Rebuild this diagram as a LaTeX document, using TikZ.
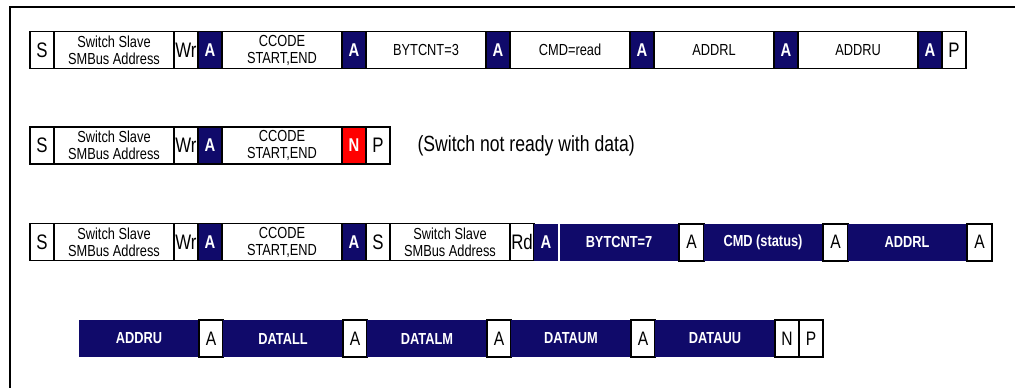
\documentclass[tikz,border=0pt]{standalone}
\usepackage{fontspec}
\setmainfont{Liberation Sans}[FakeStretch=0.8]
\usepackage{xcolor}
\definecolor{busnavy}{RGB}{16,10,106}

\tikzset{
  cell/.style={draw=black, line width=1.5pt, inner sep=0pt, outer sep=0pt,
    anchor=west, minimum height=37pt, text=black,
    font=\fontsize{21}{23}\selectfont},
  narrow/.style={cell, minimum width=24pt},
  wide/.style={cell, minimum width=120pt, align=center,
    font=\fontsize{16}{17}\selectfont},
  ack/.style={narrow, fill=busnavy, text=white,
    font=\bfseries\fontsize{18.5}{20}\selectfont},
  nak/.style={ack, fill=red},
  slavebyte/.style={cell, draw=none, fill=busnavy, text=white,
    minimum width=118pt, font=\bfseries\fontsize{16}{18}\selectfont},
  hostack/.style={narrow, line width=2pt, minimum width=25pt,
    font=\fontsize{19.5}{21}\selectfont}
}

\begin{document}
\begin{tikzpicture}[x=1pt, y=-1pt]
\useasboundingbox (0,0) rectangle (1015,388);

% Frame round the sequences
\coordinate (FR) at (1020,7);
\coordinate (FB) at (10,395);
\draw[line width=2pt] (FR) -| (FB);

\begin{scope}[shift={(0,50)}]
        % Write: block read request
        \node[narrow] (wS) at (30,0) {S};
        \node[wide] (wAddr) at (wS.east) {Switch Slave\\SMBus Address};
        \node[narrow] (wWr) at (wAddr.east) {Wr};
        \node[ack] (wA1) at (wWr.east) {A};
        \node[wide] (wCode) at (wA1.east) {CCODE\\START,END};
        \node[ack] (wA2) at (wCode.east) {A};
        \node[wide] (wCnt) at (wA2.east) {BYTCNT=3};
        \node[ack] (wA3) at (wCnt.east) {A};
        \node[wide] (wCmd) at (wA3.east) {CMD=read};
        \node[ack] (wA4) at (wCmd.east) {A};
        \node[wide] (wAddrL) at (wA4.east) {ADDRL};
        \node[ack] (wA5) at (wAddrL.east) {A};
        \node[wide] (wAddrU) at (wA5.east) {ADDRU};
        \node[ack] (wA6) at (wAddrU.east) {A};
        \node[narrow] (wP) at (wA6.east) {P};
\end{scope}

\begin{scope}[shift={(0,145.5)}]
        % Read attempt: switch not ready
        \node[narrow] (nS) at (30,0) {S};
        \node[wide] (nAddr) at (nS.east) {Switch Slave\\SMBus Address};
        \node[narrow] (nWr) at (nAddr.east) {Wr};
        \node[ack] (nA1) at (nWr.east) {A};
        \node[wide] (nCode) at (nA1.east) {CCODE\\START,END};
        \node[nak] (nN) at (nCode.east) {N};
        \node[narrow] (nP) at (nN.east) {P};
        \node[anchor=west, font=\fontsize{22}{24}\selectfont] (nNote)
          at ([xshift=24pt]nP.east) {(Switch not ready with data)};
\end{scope}

\begin{scope}[shift={(0,242)}]
        % Read: repeated start, data from the switch
        \node[narrow] (rS) at (30,0) {S};
        \node[wide] (rAddr) at (rS.east) {Switch Slave\\SMBus Address};
        \node[narrow] (rWr) at (rAddr.east) {Wr};
        \node[ack] (rA1) at (rWr.east) {A};
        \node[wide] (rCode) at (rA1.east) {CCODE\\START,END};
        \node[ack] (rA2) at (rCode.east) {A};
        \node[narrow] (rS2) at (rA2.east) {S};
        \node[wide] (rAddr2) at (rS2.east) {Switch Slave\\SMBus Address};
        \node[narrow] (rRd) at (rAddr2.east) {Rd};
        \node[ack, draw=none] (rA3) at (rRd.east) {A};
        \node[slavebyte] (rCnt) at ([xshift=2pt]rA3.east) {BYTCNT=7};
        \node[hostack] (rA4) at ([xshift=1pt]rCnt.east) {A};
        \node[slavebyte] (rCmd) at (rA4.east) {CMD (status)};
        \node[hostack] (rA5) at ([xshift=1pt]rCmd.east) {A};
        \node[slavebyte] (rAddrL) at (rA5.east) {ADDRL};
        \node[hostack] (rA6) at ([xshift=1pt]rAddrL.east) {A};
\end{scope}

\begin{scope}[shift={(0,338.5)}]
        % Read continued: address and data bytes
        \node[slavebyte, minimum width=120pt] (dAddrU) at (79,0) {ADDRU};
        \node[hostack, minimum width=24pt] (dA1) at (dAddrU.east) {A};
        \node[slavebyte, minimum width=120pt] (dLL) at (dA1.east) {DATALL};
        \node[hostack, minimum width=24pt] (dA2) at (dLL.east) {A};
        \node[slavebyte, minimum width=120pt] (dLM) at (dA2.east) {DATALM};
        \node[hostack, minimum width=24pt] (dA3) at (dLM.east) {A};
        \node[slavebyte, minimum width=120pt] (dUM) at (dA3.east) {DATAUM};
        \node[hostack, minimum width=24pt] (dA4) at (dUM.east) {A};
        \node[slavebyte, minimum width=120pt] (dUU) at (dA4.east) {DATAUU};
        \node[hostack, minimum width=24pt] (dN) at (dUU.east) {N};
        \node[hostack, minimum width=24pt] (dP) at (dN.east) {P};
\end{scope}
\end{tikzpicture}
\end{document}
